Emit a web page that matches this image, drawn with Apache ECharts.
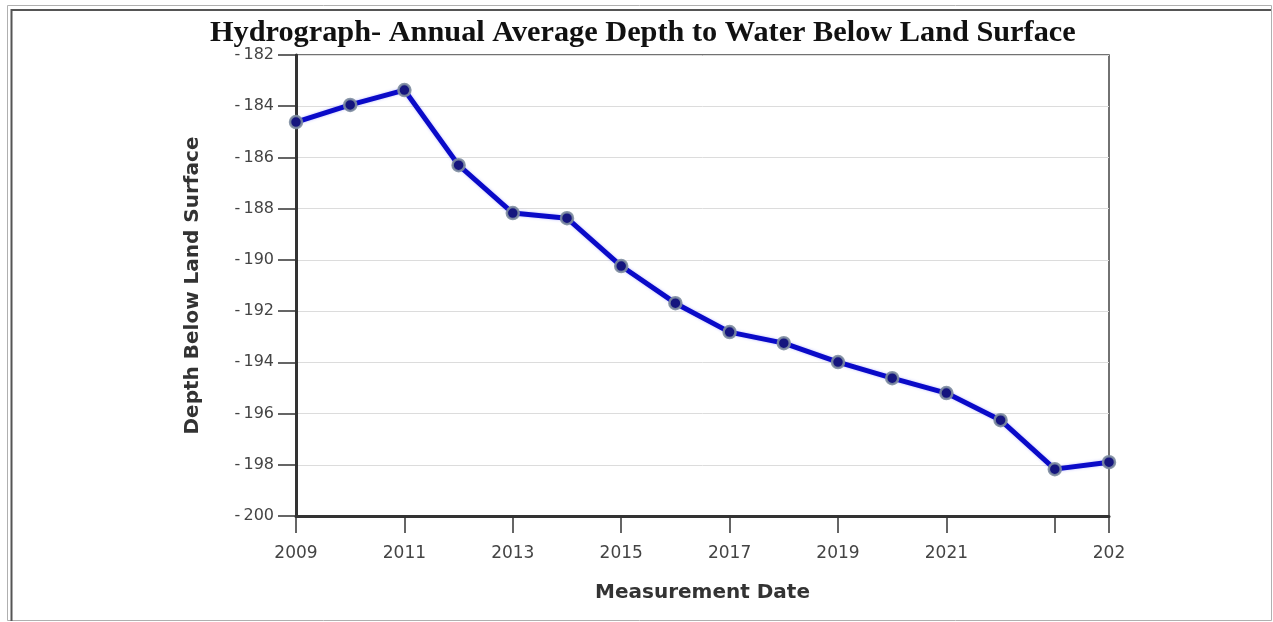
<!DOCTYPE html>
<html>
<head>
<meta charset="utf-8">
<script src="https://cdn.jsdelivr.net/npm/echarts@6/dist/echarts.min.js"></script>
<style>
html,body{margin:0;padding:0;background:#fff;}
#chart{width:1273px;height:622px;}
</style>
</head>
<body>
<div id="chart"></div>
<script>
// Data
const years = [2009, 2010, 2011, 2012, 2013, 2014, 2015, 2016, 2017, 2018, 2019, 2020, 2021, 2022, 2023, 2024];
const depth = [-184.62, -183.95, -183.37, -186.30, -188.17, -188.37, -190.24, -191.69, -192.82, -193.25, -193.99, -194.62, -195.20, -196.26, -198.17, -197.90];
const xTickValues = [2009, 2011, 2013, 2015, 2017, 2019, 2021, 2023, 2024];
const xLabelValues = [2009, 2011, 2013, 2015, 2017, 2019, 2021, 2024];
const xLabelText = {2024: '202'};
const titleText = 'Hydrograph- Annual Average Depth to Water Below Land Surface';
const xName = 'Measurement Date';
const yName = 'Depth Below Land Surface';

const chart = echarts.init(document.getElementById('chart'), null, {renderer: 'canvas'});
const option = {
  backgroundColor: '#fff',
  animation: false,
  title: {
    text: titleText,
    left: 205,
    top: 13,
    textStyle: {fontFamily: 'Liberation Serif', fontWeight: 'bold', fontSize: 30.3, color: '#111'}
  },
  graphic: [
    {type: 'rect', shape: {x: 7.5, y: 5.5, width: 1264, height: 615}, style: {fill: 'none', stroke: '#b0b0b0', lineWidth: 1}, silent: true},
    {type: 'polyline', shape: {points: [[11.5, 621], [11.5, 10], [1271, 10]]}, style: {fill: 'none', stroke: '#555', lineWidth: 2}, silent: true}
  ],
  grid: {
    left: 296, right: 164, top: 55, bottom: 106,
    show: true, borderColor: '#444', borderWidth: 1.5, backgroundColor: 'transparent'
  },
  xAxis: {
    type: 'value', min: 2009, max: 2024,
    name: xName, nameLocation: 'middle', nameGap: 67,
    nameTextStyle: {fontFamily: 'DejaVu Sans', fontWeight: 'bold', fontSize: 20, color: '#333'},
    axisLine: {show: true, lineStyle: {color: '#333', width: 3}},
    axisTick: {show: true, length: 17, customValues: xTickValues, lineStyle: {color: '#333', width: 1.5}},
    axisLabel: {
      customValues: xLabelValues, margin: 29,
      fontFamily: 'DejaVu Sans', fontSize: 17, color: '#444',
      formatter: v => (xLabelText[v] !== undefined ? xLabelText[v] : String(v))
    },
    splitLine: {show: false}
  },
  yAxis: {
    type: 'value', min: -200, max: -182, interval: 2,
    name: yName, nameLocation: 'middle', nameGap: 93, nameRotate: 90,
    nameTextStyle: {fontFamily: 'DejaVu Sans', fontWeight: 'bold', fontSize: 20, color: '#333'},
    axisLine: {show: true, lineStyle: {color: '#333', width: 3}},
    axisTick: {show: true, length: 18, lineStyle: {color: '#333', width: 1.5}},
    axisLabel: {
      margin: 22, fontFamily: 'DejaVu Sans', fontSize: 16, color: '#444',
      formatter: v => String(v).replace('-', '-\u2009')
    },
    splitLine: {show: true, lineStyle: {color: '#dcdcdc', width: 1}}
  },
  series: [{
    type: 'line',
    data: years.map((y, i) => [y, depth[i]]),
    symbol: 'circle', symbolSize: 12,
    lineStyle: {color: '#0a0ac8', width: 5, shadowColor: 'rgba(60,60,255,0.35)', shadowBlur: 3},
    itemStyle: {color: '#15157e', borderColor: 'rgba(125,140,160,0.9)', borderWidth: 2.5},
    clip: false
  }]
};
chart.setOption(option);
</script>
</body>
</html>
